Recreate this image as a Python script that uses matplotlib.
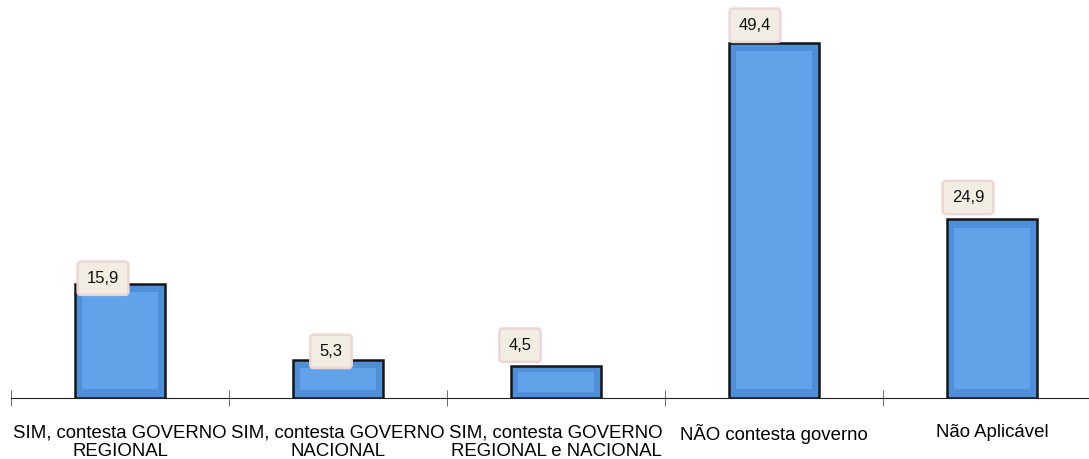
import numpy as np
import matplotlib.pyplot as plt

categories = ["SIM, contesta GOVERNO\nREGIONAL",
              "SIM, contesta GOVERNO\nNACIONAL",
              "SIM, contesta GOVERNO\nREGIONAL e NACIONAL",
              "NÃO contesta governo",
              "Não Aplicável"]
values = [15.9, 5.3, 4.5, 49.4, 24.9]
value_labels = ["15,9", "5,3", "4,5", "49,4", "24,9"]

# the data labels were hand-placed in the original, offsets in pixels
label_dx = [-17, -7, -36, -19, -24]
label_dy = [-2, 1, 13, 10, 14]

plt.rcParams['font.family'] = ['Liberation Sans', 'DejaVu Sans']

fig = plt.figure(figsize=(10.89, 4.59), dpi=100)
ax = fig.add_axes([11 / 1089, 61 / 459, 1090 / 1089, 398 / 459])

x = np.arange(len(values))
bars = ax.bar(x, values, width=0.41, color='#4f8fd8', edgecolor='#151515', linewidth=1.8)

# lighter inner part to mimic the bevelled bars
for b in bars:
    bx, bw, bh = b.get_x(), b.get_width(), b.get_height()
    inset = min(1.2, bh * 0.2)
    ax.bar(bx + bw / 2, bh - 2 * inset, bottom=inset,
           width=bw * 0.84, color='#62a2e8', linewidth=0, zorder=2.5)

for i, (v, lab) in enumerate(zip(values, value_labels)):
    ax.annotate(lab, (x[i], v), xytext=(label_dx[i], label_dy[i]), textcoords='offset pixels',
                ha='center', va='bottom', fontsize=12, color='#111111', zorder=5,
                bbox=dict(boxstyle='round,pad=0.55,rounding_size=0.2', fc='#f1ede3', ec='#eed6d6', lw=1.8))

ax.set_xlim(-0.5, len(values) - 0.5)
ax.set_ylim(0, 55.35)
for s in ['left', 'right', 'top']:
    ax.spines[s].set_visible(False)
ax.spines['bottom'].set_color('#222222')
ax.set_yticks([])
ax.set_xticks(x)
ax.set_xticklabels(categories, fontsize=13.4, linespacing=1.15)
ax.tick_params(axis='x', which='major', length=0, pad=19)
ax.set_xticks(np.arange(-0.5, len(values)), minor=True)
ax.tick_params(axis='x', which='minor', length=12, direction='inout', color='#555555')

plt.savefig("out.png", dpi=100)
